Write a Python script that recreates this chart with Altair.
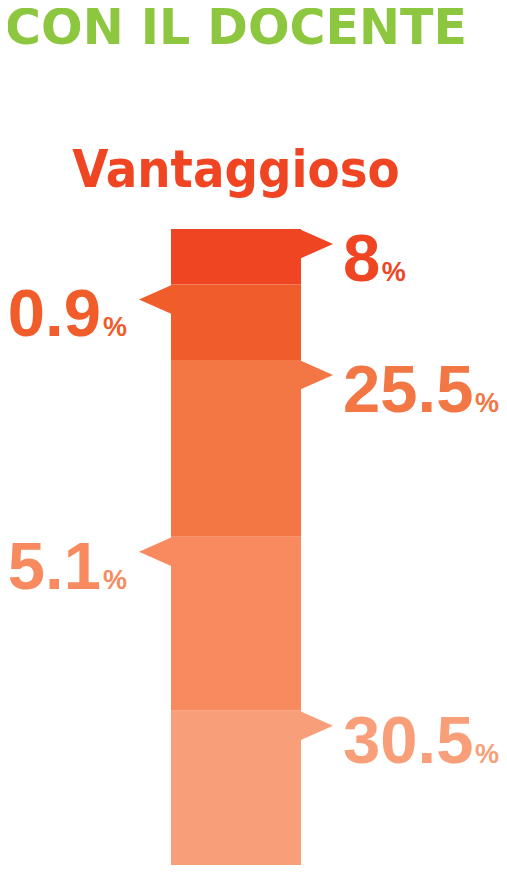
import altair as alt
import pandas as pd

# ---- data ----
group_name = "Vantaggioso"
header_text = "CON IL DOCENTE"
values = [8, 10.9, 25.5, 25.1, 30.5]
value_labels = ["8", "10.9", "25.5", "25.1", "30.5"]
sides = ["right", "left", "right", "left", "right"]
colors = ["#EF4523", "#F15D2A", "#F37645", "#F78B5F", "#F89F7A"]
title_color = "#8DC63F"

# ---- build table (stack from top) ----
starts, ends, acc = [], [], 0.0
for v in values:
    starts.append(acc)
    acc += v
    ends.append(acc)

df = pd.DataFrame({
    "group": [group_name] * len(values),
    "label": value_labels,
    "value": values,
    "start": starts,
    "end": ends,
    "side": sides,
    "pct": ["%"] * len(values),
})

NUM_SIZE = 67
PCT_SIZE = 27
HALF_BAR = 65
RIGHT_GAP = 42


def text_width(s, size):
    w = 0.0
    for ch in s:
        w += 0.278 if ch == "." else 0.556
    return w * size


x_enc = alt.X("group:N", scale=alt.Scale(type="band", range=[163, 293], paddingInner=0, paddingOuter=0), axis=None)
y_enc = alt.Y("start:Q", scale=alt.Scale(domain=[0, 100], range=[221, 914], nice=False, zero=False), axis=None)
c_enc = alt.Color("label:N", scale=alt.Scale(domain=value_labels, range=colors), legend=None)

base = alt.Chart(df)

bars = base.mark_bar(strokeWidth=0).encode(x=x_enc, y=y_enc, y2="end:Q", color=c_enc)

right_arrow = "M3.95,0L6.0625,0.9375L3.95,1.875Z"
left_arrow = "M-3.95,0L-6.0625,0.9375L-3.95,1.875Z"

arrows_r = base.transform_filter(alt.datum.side == "right").mark_point(
    shape=right_arrow, size=1024, filled=True, opacity=1, strokeWidth=0
).encode(x=x_enc, y=y_enc, color=c_enc)
arrows_l = base.transform_filter(alt.datum.side == "left").mark_point(
    shape=left_arrow, size=1024, filled=True, opacity=1, strokeWidth=0
).encode(x=x_enc, y=y_enc, color=c_enc)

num_common = dict(font="Liberation Sans", fontWeight="bold", fontSize=NUM_SIZE, baseline="alphabetic", dy=52)
nums_r = base.transform_filter(alt.datum.side == "right").mark_text(
    align="left", dx=HALF_BAR + RIGHT_GAP, **num_common
).encode(x=x_enc, y=y_enc, text="label:N", color=c_enc)
nums_l = base.transform_filter(alt.datum.side == "left").mark_text(
    align="right", dx=-(HALF_BAR + 70), **num_common
).encode(x=x_enc, y=y_enc, text="label:N", color=c_enc)

pct_common = dict(font="Liberation Sans", fontWeight="bold", fontSize=PCT_SIZE, baseline="alphabetic", dy=52)
pct_layers = []
for lab, side in zip(value_labels, sides):
    if side == "right":
        dx = HALF_BAR + RIGHT_GAP + text_width(lab, NUM_SIZE) + 1.5
        m = base.transform_filter(alt.datum.label == lab).mark_text(align="left", dx=dx, **pct_common)
    else:
        m = base.transform_filter(alt.datum.label == lab).mark_text(align="right", dx=-(HALF_BAR + 44), **pct_common)
    pct_layers.append(m.encode(x=x_enc, y=y_enc, text="pct:N", color=c_enc))

head_df = pd.DataFrame({"group": [group_name], "header": [header_text]})
header = alt.Chart(head_df).mark_text(
    font="DejaVu Sans", fontWeight="bold", fontSize=49, color=title_color, align="center", baseline="alphabetic"
).encode(x=x_enc, y=alt.value(36), text="header:N")
group_title = alt.Chart(head_df).mark_text(
    font="DejaVu Sans Condensed", fontWeight="bold", fontSize=52, color=colors[0], align="center", baseline="alphabetic"
).encode(x=x_enc, y=alt.value(179), text="group:N")

chart = alt.layer(bars, arrows_r, arrows_l, nums_r, nums_l, *pct_layers, header, group_title).properties(
    width=491, height=857, padding=0, autosize="none"
).configure_view(stroke=None)

chart.save("out.html", embed_options={"renderer": "svg", "actions": False})
